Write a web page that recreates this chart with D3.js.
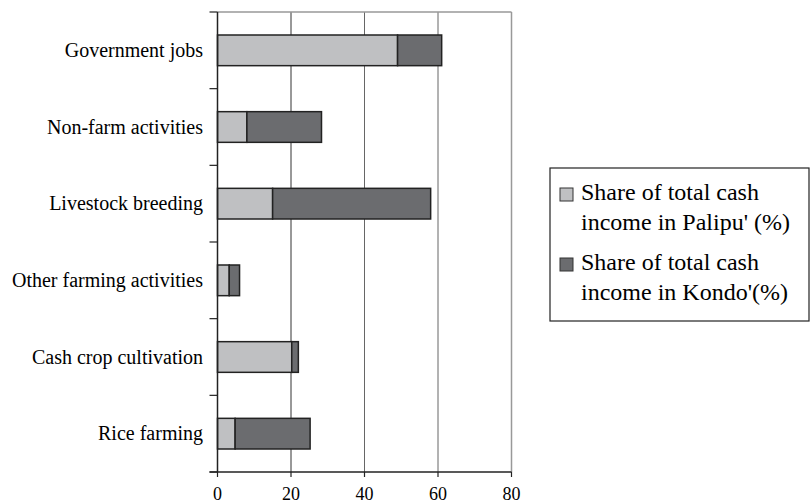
<!DOCTYPE html>
<html>
<head>
<meta charset="utf-8">
<script src="https://cdn.jsdelivr.net/npm/d3@7"></script>
</head>
<body style="margin:0; background:#fff">
<script>
const categories = ["Government jobs", "Non-farm activities", "Livestock breeding",
                    "Other farming activities", "Cash crop cultivation", "Rice farming"]
const palipu = [49, 8, 15, 3.2, 20.2, 4.8]
const kondo = [12, 20.3, 43, 2.8, 1.8, 20.4]
const x_ticks = [0, 20, 40, 60, 80]
const series = ["palipu", "kondo"]
const legend_lines = [
    ["Share of total cash", "income in Palipu' (%)"],
    ["Share of total cash", "income in Kondo'(%)"]
]

const width = 810,
      height = 504
const plot_left = 217.5, plot_right = 511.5, plot_top = 12, plot_bottom = 472
const colors = { palipu: "#bfc0c2", kondo: "#6b6c6f" }
const font = "Times New Roman"

const svg = d3.select("body")
    .append("svg")
    .attr("width", width)
    .attr("height", height)
    .attr("font-family", font)

const x = d3.scaleLinear().domain([0, 80]).range([plot_left, plot_right])
const y = d3.scaleBand()
    .domain(categories)
    .range([plot_top, plot_bottom])
    .paddingInner(0.6)
    .paddingOuter(0.3)

// grid lines + frame
svg.append("g")
    .selectAll("line")
    .data(x_ticks.slice(1))
    .enter()
    .append("line")
    .attr("x1", d => x(d)).attr("x2", d => x(d))
    .attr("y1", plot_top).attr("y2", plot_bottom)
    .attr("stroke", d => d === 80 ? "#999" : d === 20 ? "#333" : "#666")
    .attr("stroke-width", d => d === 80 ? 1.5 : 1)

svg.append("line")
    .attr("x1", plot_left).attr("x2", plot_right)
    .attr("y1", plot_top).attr("y2", plot_top)
    .attr("stroke", "#999")
    .attr("stroke-width", 1.5)

// stacked bars
const rows = categories.map((c, i) => ({ category: c, palipu: palipu[i], kondo: kondo[i] }))
const stacked = d3.stack().keys(series)(rows)

svg.append("g")
    .selectAll("g")
    .data(stacked)
    .enter()
    .append("g")
    .attr("fill", d => colors[d.key])
    .selectAll("rect")
    .data(d => d)
    .enter()
    .append("rect")
    .attr("x", d => x(d[0]))
    .attr("y", d => y(d.data.category))
    .attr("width", d => x(d[1]) - x(d[0]))
    .attr("height", y.bandwidth())
    .attr("stroke", "#222")
    .attr("stroke-width", 1.5)

// left axis
svg.append("line")
    .attr("x1", plot_left).attr("x2", plot_left)
    .attr("y1", plot_top).attr("y2", plot_bottom)
    .attr("stroke", "#222").attr("stroke-width", 1.5)

const step = (plot_bottom - plot_top) / categories.length
svg.append("g")
    .selectAll("line")
    .data(d3.range(categories.length + 1))
    .enter()
    .append("line")
    .attr("x1", plot_left - 8).attr("x2", plot_left)
    .attr("y1", i => plot_top + i * step).attr("y2", i => plot_top + i * step)
    .attr("stroke", "#222").attr("stroke-width", 1.2)

svg.append("g")
    .selectAll("text")
    .data(categories)
    .enter()
    .append("text")
    .attr("x", 203)
    .attr("y", d => y(d) + y.bandwidth() / 2 + 6.5)
    .attr("font-size", 20)
    .attr("font-family", font)
    .attr("text-anchor", "end")
    .text(d => d)

// bottom axis
svg.append("line")
    .attr("x1", plot_left - 8).attr("x2", plot_right)
    .attr("y1", plot_bottom).attr("y2", plot_bottom)
    .attr("stroke", "#222").attr("stroke-width", 1.5)

const xAxis = svg.append("g")
xAxis.selectAll("line")
    .data(x_ticks)
    .enter()
    .append("line")
    .attr("x1", d => x(d)).attr("x2", d => x(d))
    .attr("y1", plot_bottom).attr("y2", plot_bottom + 5)
    .attr("stroke", "#222").attr("stroke-width", 1.2)
xAxis.selectAll("text")
    .data(x_ticks)
    .enter()
    .append("text")
    .attr("x", d => x(d))
    .attr("y", 500)
    .attr("font-size", 18)
    .attr("font-family", font)
    .attr("text-anchor", "middle")
    .text(d => d)

// legend
const legend = svg.append("g")
legend.append("rect")
    .attr("x", 550).attr("y", 168)
    .attr("width", 259).attr("height", 153)
    .attr("fill", "none")
    .attr("stroke", "#222").attr("stroke-width", 1.2)

series.forEach((key, i) => {
    const base = 200 + i * 70
    legend.append("rect")
        .attr("x", 560).attr("y", base - 12)
        .attr("width", 13).attr("height", 13)
        .attr("fill", colors[key])
        .attr("stroke", "#333").attr("stroke-width", 1)
    legend_lines[i].forEach((line, j) => {
        legend.append("text")
            .attr("x", 581)
            .attr("y", base + j * 30)
            .attr("font-size", 24)
            .attr("font-family", font)
            .text(line)
    })
})
</script>
</body>
</html>
